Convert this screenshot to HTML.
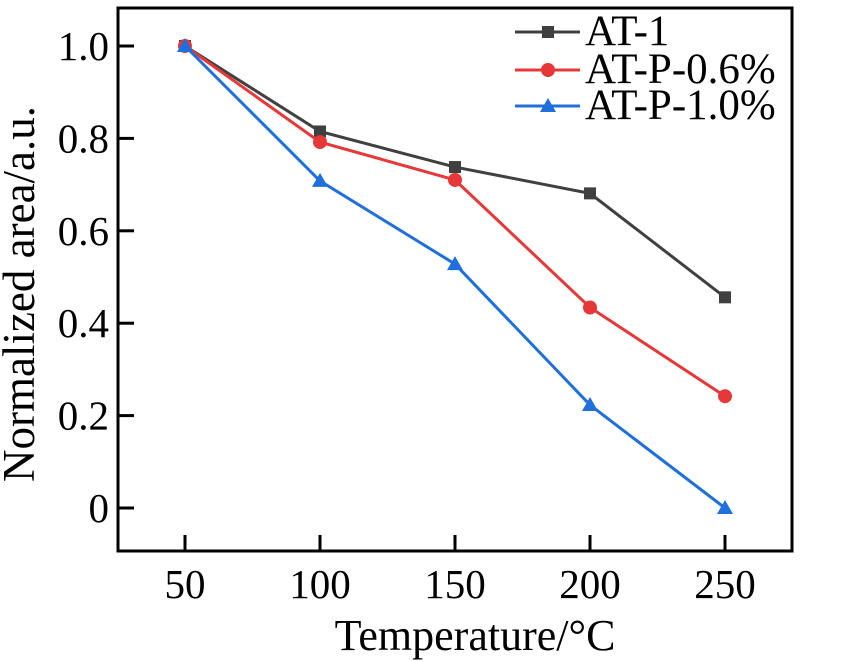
<!DOCTYPE html>
<html><head><meta charset="utf-8"><style>
body{margin:0;background:#fff;}
svg{display:block;font-family:"Liberation Serif",serif;}
</style></head><body>
<svg id="c" width="850" height="661"></svg>
<script>
const categories=[50,100,150,200,250];
const seriesAT1=[1.0,0.815,0.738,0.681,0.456];
const seriesP06=[1.0,0.792,0.71,0.434,0.242];
const seriesP10=[1.0,0.708,0.528,0.223,0.0];
const yTicks=[0,0.2,0.4,0.6,0.8,1.0];
const yTickLabels=["0","0.2","0.4","0.6","0.8","1.0"];
const xTickLabels=["50","100","150","200","250"];
const seriesNames=["AT-1","AT-P-0.6%","AT-P-1.0%"];
const NS="http://www.w3.org/2000/svg";
const svg=document.getElementById('c');
const L=118,R=792,T=8,B=551;
const xs=v=>185+(v-50)*(540/200);
const ys=v=>508-v*462;
function mk(t,a,p){const e=document.createElementNS(NS,t);for(const k in a)e.setAttribute(k,a[k]);(p||svg).appendChild(e);return e;}
const frame=mk('rect',{x:L,y:T,width:R-L,height:B-T,fill:'none',stroke:'#000','stroke-width':3});


yTicks.forEach((v,i)=>{
 const t=mk('line',{x1:L,x2:L+16,y1:ys(v),y2:ys(v),stroke:'#000','stroke-width':3});
 
 
 const l=mk('text',{x:L-9,y:ys(v)+14,'text-anchor':'end','font-size':41});
 l.textContent=yTickLabels[i];
 
 
});
categories.forEach((v,i)=>{
 const t=mk('line',{x1:xs(v),x2:xs(v),y1:B,y2:B-16,stroke:'#000','stroke-width':3});
 
 
 const l=mk('text',{x:xs(v),y:598,'text-anchor':'middle','font-size':41});
 l.textContent=xTickLabels[i];
 
 
});
const xt=mk('text',{x:475,y:650,'text-anchor':'middle','font-size':44});
xt.textContent='Temperature/°C';


const yt=mk('text',{x:0,y:0,'text-anchor':'middle','font-size':45,transform:'translate(34,294) rotate(-90)'});
yt.textContent='Normalized area/a.u.';


function marker(g,type,x,y,col){
 let m;
 if(type==='sq')m=mk('rect',{x:x-6,y:y-6,width:12,height:12,fill:col},g);
 else if(type==='ci')m=mk('circle',{cx:x,cy:y,r:7,fill:col},g);
 else m=mk('polygon',{points:`${x},${y-8} ${x-8},${y+6} ${x+8},${y+6}`,fill:col},g);
 
 
}
const series=[[seriesAT1,'#404040','sq'],[seriesP06,'#e63838','ci'],[seriesP10,'#1f6fdc','tr']];
series.forEach((s,si)=>{
 const g=mk('g',{});
 
 
 const pl=mk('polyline',{points:s[0].map((v,i)=>xs(categories[i])+','+ys(v)).join(' '),fill:'none',stroke:s[1],'stroke-width':3},g);
 
 
 s[0].forEach((v,i)=>marker(g,s[2],xs(categories[i]),ys(v),s[1]));
});
const legY=[32,70,106];
series.forEach((s,si)=>{
 const g=mk('g',{});
 
 
 mk('line',{x1:515,x2:580,y1:legY[si],y2:legY[si],stroke:s[1],'stroke-width':3},g);
 marker(g,s[2],548,legY[si],s[1]);
 const t=mk('text',{x:585,y:legY[si]+13,'font-size':43},g);
 t.textContent=seriesNames[si];
 
 
});
</script>
</body></html>
